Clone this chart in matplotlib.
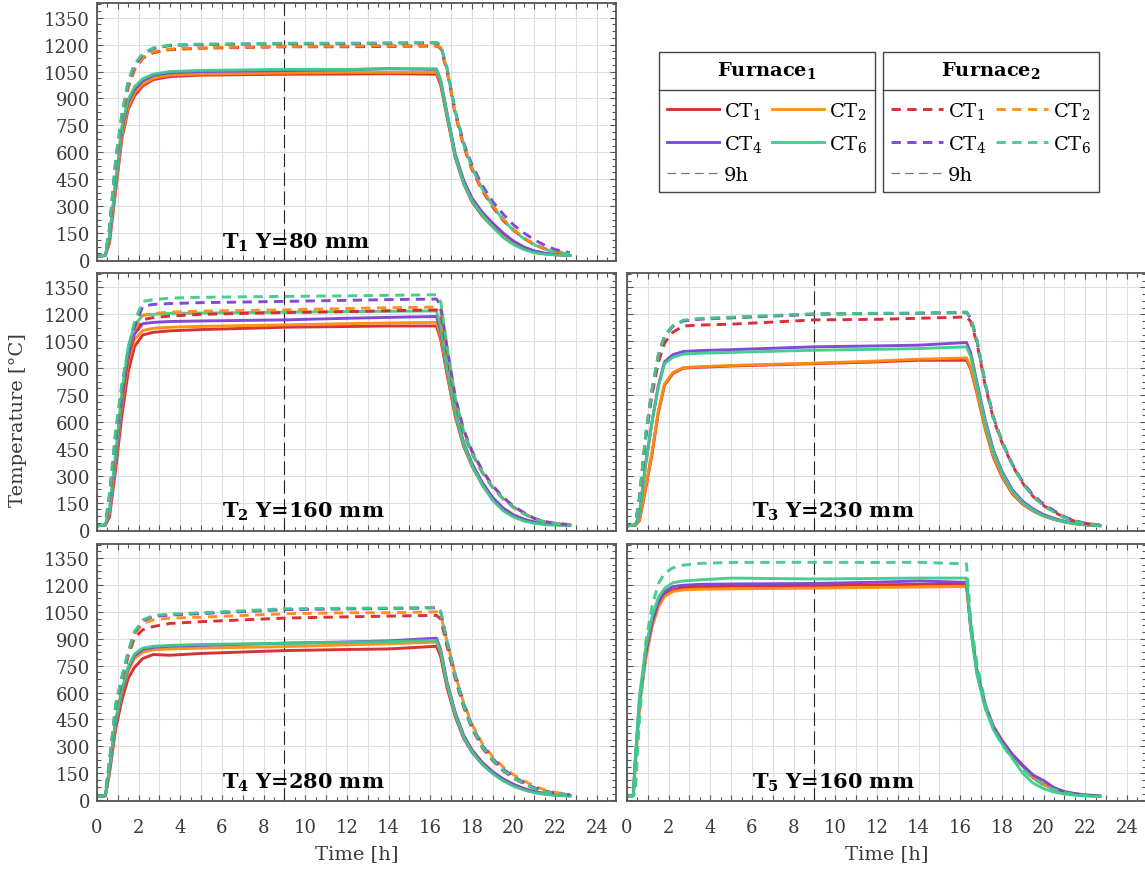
import matplotlib
matplotlib.use("Agg")
import matplotlib.pyplot as plt
from matplotlib.lines import Line2D
from matplotlib.ticker import FuncFormatter, MultipleLocator

plt.rcParams["font.family"] = "DejaVu Serif"
plt.rcParams["mathtext.fontset"] = "dejavuserif"

# shared time grid [h]
TIME = [0, 0.3, 0.4, 0.6, 0.9, 1.2, 1.5, 1.8, 2.2, 2.7, 3.5, 5, 9, 12, 14, 16.3,
        16.5, 16.8, 17.2, 17.6, 18.0, 18.5, 19.0, 19.5, 20.0, 20.5, 21.0, 21.5, 22.0, 22.7]
MARK_9H = 9

# ---- T1, Y = 80 mm
T1_F1_CT1 = [22, 24, 25, 95, 390, 680, 840, 915, 970, 1005, 1022, 1030, 1035, 1036, 1038, 1035,
             975, 800, 570, 425, 325, 245, 185, 135, 95, 65, 45, 35, 29, 25]
T1_F1_CT2 = [22, 24, 25, 105, 405, 700, 855, 930, 980, 1012, 1030, 1036, 1042, 1045, 1045, 1045,
             990, 815, 585, 440, 340, 258, 195, 142, 100, 68, 47, 36, 30, 25]
T1_F1_CT4 = [22, 24, 25, 120, 430, 730, 880, 950, 998, 1028, 1043, 1050, 1055, 1060, 1066, 1062,
             1000, 820, 590, 445, 345, 265, 205, 150, 105, 72, 50, 38, 31, 26]
T1_F1_CT6 = [22, 24, 25, 130, 445, 745, 895, 965, 1010, 1035, 1050, 1056, 1062, 1062, 1065, 1065,
             1000, 815, 580, 430, 330, 250, 185, 125, 85, 58, 40, 32, 28, 24]
T1_F2_CT1 = [22, 24, 28, 160, 530, 780, 960, 1060, 1125, 1155, 1172, 1180, 1188, 1188, 1190, 1192,
             1180, 1055, 810, 635, 505, 385, 295, 220, 165, 120, 85, 62, 46, 36]
T1_F2_CT2 = [22, 24, 28, 165, 540, 790, 970, 1068, 1130, 1160, 1176, 1183, 1190, 1192, 1195, 1195,
             1185, 1065, 820, 645, 515, 395, 305, 228, 170, 124, 88, 64, 48, 37]
T1_F2_CT4 = [22, 24, 28, 175, 555, 810, 990, 1085, 1145, 1178, 1195, 1200, 1205, 1205, 1208, 1210,
             1195, 1070, 830, 655, 530, 415, 325, 255, 195, 150, 112, 82, 58, 40]
T1_F2_CT6 = [22, 24, 28, 180, 565, 820, 1000, 1092, 1150, 1182, 1198, 1203, 1208, 1208, 1210, 1212,
             1198, 1072, 825, 645, 515, 395, 300, 222, 165, 118, 84, 60, 44, 34]

# ---- T2, Y = 160 mm
T2_F1_CT1 = [22, 24, 25, 70, 340, 640, 880, 1020, 1085, 1100, 1108, 1115, 1128, 1132, 1135, 1135,
             1060, 870, 630, 465, 355, 250, 168, 112, 76, 54, 40, 32, 28, 25]
T2_F1_CT2 = [22, 24, 25, 90, 380, 700, 940, 1060, 1110, 1122, 1128, 1133, 1141, 1148, 1152, 1155,
             1080, 885, 645, 478, 365, 258, 175, 118, 80, 57, 42, 33, 28, 25]
T2_F1_CT4 = [22, 24, 25, 100, 400, 730, 966, 1090, 1148, 1155, 1160, 1163, 1169, 1178, 1183, 1188,
             1110, 900, 655, 485, 370, 262, 178, 120, 82, 58, 42, 33, 28, 25]
T2_F1_CT6 = [22, 24, 25, 110, 430, 770, 1020, 1140, 1195, 1200, 1205, 1207, 1212, 1215, 1217, 1219,
             1130, 905, 650, 475, 358, 248, 163, 105, 70, 48, 35, 28, 25, 22]
T2_F2_CT1 = [22, 24, 28, 170, 500, 770, 960, 1090, 1170, 1182, 1190, 1200, 1210, 1215, 1220, 1225,
             1205, 990, 715, 540, 425, 318, 235, 172, 125, 90, 60, 44, 34, 27]
T2_F2_CT2 = [22, 24, 28, 180, 520, 790, 980, 1110, 1195, 1205, 1212, 1218, 1225, 1232, 1237, 1240,
             1220, 1000, 725, 550, 435, 326, 242, 178, 128, 92, 62, 45, 35, 28]
T2_F2_CT4 = [22, 24, 28, 190, 540, 800, 990, 1130, 1245, 1255, 1260, 1265, 1272, 1278, 1282, 1285,
             1250, 1020, 740, 560, 440, 330, 245, 180, 130, 95, 62, 45, 35, 28]
T2_F2_CT6 = [22, 24, 28, 200, 560, 820, 1010, 1160, 1272, 1282, 1290, 1295, 1300, 1303, 1306, 1309,
             1270, 1025, 735, 550, 430, 320, 235, 170, 122, 88, 58, 42, 33, 26]

# ---- T3, Y = 230 mm
T3_F1_CT1 = [22, 24, 25, 50, 230, 420, 650, 805, 870, 900, 905, 912, 925, 935, 944, 944,
             895, 760, 560, 400, 295, 200, 142, 104, 76, 57, 43, 33, 27, 22]
T3_F1_CT2 = [22, 24, 25, 55, 240, 430, 660, 812, 876, 903, 908, 915, 928, 940, 950, 957,
             905, 770, 570, 410, 302, 205, 146, 107, 78, 58, 44, 34, 27, 22]
T3_F1_CT4 = [22, 24, 25, 90, 370, 600, 800, 935, 975, 993, 998, 1003, 1019, 1024, 1028, 1043,
             985, 820, 610, 440, 325, 222, 158, 115, 84, 63, 47, 36, 28, 23]
T3_F1_CT6 = [22, 24, 25, 90, 370, 600, 795, 925, 960, 978, 983, 988, 1000, 1005, 1009, 1019,
             965, 805, 595, 428, 315, 214, 150, 108, 78, 58, 44, 34, 27, 22]
T3_F2_CT1 = [22, 24, 28, 170, 510, 750, 930, 1040, 1100, 1135, 1140, 1145, 1169, 1172, 1178, 1185,
             1160, 1040, 800, 612, 485, 358, 258, 184, 134, 99, 68, 47, 35, 25]
T3_F2_CT2 = [22, 24, 28, 180, 530, 780, 970, 1080, 1135, 1165, 1175, 1182, 1202, 1205, 1205, 1212,
             1180, 1055, 815, 625, 495, 365, 262, 187, 136, 101, 69, 48, 35, 25]
T3_F2_CT4 = [22, 24, 28, 178, 528, 778, 968, 1078, 1133, 1163, 1173, 1180, 1200, 1204, 1206, 1210,
             1178, 1052, 812, 622, 492, 364, 265, 192, 142, 106, 72, 50, 36, 26]
T3_F2_CT6 = [22, 24, 28, 182, 532, 782, 972, 1082, 1137, 1167, 1177, 1184, 1203, 1206, 1207, 1213,
             1182, 1056, 812, 620, 490, 360, 258, 184, 133, 98, 67, 47, 34, 25]

# ---- T4, Y = 280 mm
T4_F1_CT1 = [22, 24, 25, 150, 400, 560, 680, 740, 790, 812, 808, 818, 834, 840, 843, 858,
             800, 630, 465, 345, 268, 200, 150, 112, 82, 60, 45, 35, 29, 25]
T4_F1_CT2 = [22, 24, 25, 165, 430, 600, 720, 790, 825, 838, 843, 848, 856, 866, 872, 881,
             825, 655, 485, 360, 280, 210, 158, 118, 86, 63, 47, 37, 30, 26]
T4_F1_CT4 = [22, 24, 25, 170, 440, 610, 735, 805, 840, 852, 858, 863, 875, 882, 888, 903,
             840, 660, 488, 362, 280, 210, 158, 118, 88, 65, 48, 37, 30, 26]
T4_F1_CT6 = [22, 24, 25, 175, 450, 620, 745, 815, 848, 858, 863, 868, 875, 880, 884, 890,
             830, 650, 478, 352, 270, 200, 148, 108, 78, 57, 42, 33, 27, 23]
T4_F2_CT1 = [22, 24, 28, 205, 510, 670, 805, 905, 950, 968, 985, 995, 1015, 1022, 1026, 1030,
             1010, 860, 675, 520, 400, 292, 220, 164, 123, 92, 66, 49, 38, 30]
T4_F2_CT2 = [22, 24, 28, 210, 520, 680, 820, 925, 985, 1005, 1015, 1020, 1039, 1045, 1045, 1050,
             1035, 885, 700, 545, 425, 315, 242, 185, 142, 108, 78, 58, 44, 32]
T4_F2_CT4 = [22, 24, 28, 215, 530, 685, 825, 935, 1000, 1025, 1032, 1040, 1062, 1066, 1068, 1072,
             1050, 890, 700, 540, 415, 305, 232, 174, 132, 98, 70, 51, 39, 30]
T4_F2_CT6 = [22, 24, 28, 220, 540, 690, 830, 940, 1005, 1030, 1037, 1045, 1067, 1070, 1071, 1075,
             1052, 885, 692, 530, 408, 298, 225, 168, 126, 93, 66, 48, 37, 29]

# ---- T5, Y = 160 mm (furnace 2: CT6 only)
T5_F1_CT1 = [22, 25, 210, 540, 800, 975, 1085, 1145, 1172, 1185, 1190, 1192, 1195, 1200, 1203, 1205,
             960, 715, 525, 405, 330, 250, 190, 125, 88, 65, 45, 35, 28, 22]
T5_F1_CT2 = [22, 25, 200, 530, 790, 965, 1075, 1135, 1163, 1172, 1176, 1178, 1182, 1186, 1188, 1191,
             965, 725, 530, 410, 335, 255, 195, 130, 90, 65, 46, 36, 29, 23]
T5_F1_CT4 = [22, 25, 220, 560, 820, 990, 1100, 1160, 1190, 1198, 1203, 1205, 1208, 1215, 1222, 1214,
             970, 720, 528, 408, 332, 255, 195, 140, 110, 70, 48, 37, 30, 24]
T5_F1_CT6 = [22, 25, 240, 580, 850, 1020, 1130, 1180, 1212, 1222, 1228, 1238, 1233, 1236, 1238, 1238,
             950, 700, 510, 390, 315, 235, 150, 95, 65, 45, 35, 28, 24, 20]
T5_F2_CT6 = [22, 25, 40, 450, 880, 1080, 1205, 1265, 1295, 1310, 1320, 1325, 1326, 1325, 1326, 1317,
             1000, 760, 540, 395, 310, 230, 173, 120, 85, 60, 42, 32, 27, 22]

SENSORS = ["CT1", "CT2", "CT4", "CT6"]
SENSOR_LABELS = [r"CT$_1$", r"CT$_2$", r"CT$_4$", r"CT$_6$"]
PANEL_LABELS = [r"$\mathbf{T_1}$ Y=80 mm", r"$\mathbf{T_2}$ Y=160 mm", r"$\mathbf{T_3}$ Y=230 mm",
                r"$\mathbf{T_4}$ Y=280 mm", r"$\mathbf{T_5}$ Y=160 mm"]
PANEL_F1 = [[T1_F1_CT1, T1_F1_CT2, T1_F1_CT4, T1_F1_CT6],
            [T2_F1_CT1, T2_F1_CT2, T2_F1_CT4, T2_F1_CT6],
            [T3_F1_CT1, T3_F1_CT2, T3_F1_CT4, T3_F1_CT6],
            [T4_F1_CT1, T4_F1_CT2, T4_F1_CT4, T4_F1_CT6],
            [T5_F1_CT1, T5_F1_CT2, T5_F1_CT4, T5_F1_CT6]]
PANEL_F2 = [[T1_F2_CT1, T1_F2_CT2, T1_F2_CT4, T1_F2_CT6],
            [T2_F2_CT1, T2_F2_CT2, T2_F2_CT4, T2_F2_CT6],
            [T3_F2_CT1, T3_F2_CT2, T3_F2_CT4, T3_F2_CT6],
            [T4_F2_CT1, T4_F2_CT2, T4_F2_CT4, T4_F2_CT6],
            [None, None, None, T5_F2_CT6]]

COLORS = {"CT1": "#d7262b", "CT2": "#ff8c10", "CT4": "#7c3fd6", "CT6": "#3fcb8b"}
LW = 2.1
DASH = (3.2, 2.2)

# axes rectangles (left, bottom) in figure fraction
W, H = 0.453, 0.296
XL, XR = 0.0847, 0.5476
POS = [(XL, 0.699), (XL, 0.389), (XR, 0.389), (XL, 0.078), (XR, 0.078)]

fig = plt.figure(figsize=(11.45, 8.7), dpi=100)

legend_handles = {"f1": [], "f2": []}
for i, (x0, y0) in enumerate(POS):
    ax = fig.add_axes([x0, y0, W, H])
    for s, vals in zip(SENSORS, PANEL_F1[i]):
        ln, = ax.plot(TIME, vals, color=COLORS[s], lw=LW, alpha=0.95, solid_joinstyle="round")
        if i == 0:
            legend_handles["f1"].append(ln)
    for s, vals in zip(SENSORS, PANEL_F2[i]):
        if vals is None:
            continue
        ln, = ax.plot(TIME, vals, color=COLORS[s], lw=LW, alpha=0.95, dashes=DASH)
        if i == 0:
            legend_handles["f2"].append(ln)
    ax.axvline(MARK_9H, color="#222222", lw=0.8, dashes=(12, 5), zorder=1.5)
    ax.text(6, 70, PANEL_LABELS[i], fontsize=15, fontweight="bold", ha="left", va="baseline")

    ax.set_xlim(0, 24.9)
    ax.set_ylim(-5, 1430)
    ax.xaxis.set_major_locator(MultipleLocator(1))
    ax.xaxis.set_minor_locator(MultipleLocator(0.5))
    ax.xaxis.set_major_formatter(FuncFormatter(
        lambda v, p: f"{int(round(v))}" if int(round(v)) % 2 == 0 else ""))
    ax.yaxis.set_major_locator(MultipleLocator(150))
    ax.yaxis.set_minor_locator(MultipleLocator(37.5))
    ax.grid(True, which="major", color="#dedede", lw=0.8)
    ax.set_axisbelow(True)
    ax.tick_params(which="both", direction="in", top=True, right=True, color="#555555",
                   labelcolor="#3a3a3a", labelsize=13, pad=5)
    ax.tick_params(axis="x", pad=12)
    ax.tick_params(which="major", length=4.5, width=0.8)
    ax.tick_params(which="minor", length=3, width=0.8)
    ax.tick_params(labelbottom=i >= 3, labelleft=x0 == XL)
    for sp in ax.spines.values():
        sp.set_color("#555555")
        sp.set_linewidth(1.3)
    if i >= 3:
        ax.set_xlabel("Time [h]", fontsize=14, color="#3a3a3a", labelpad=6)

fig.text(0.016, 0.517, "Temperature [°C]", rotation=90, ha="center", va="center",
         fontsize=14, color="#3a3a3a")

nine_h = Line2D([], [], color="#777777", lw=0.9, dashes=(7, 4))
legs = []
for key, title, x_anchor in (("f1", r"$\mathbf{Furnace_1}$", 659 / 1145),
                             ("f2", r"$\mathbf{Furnace_2}$", 883 / 1145)):
    h = legend_handles[key]
    handles = [h[0], h[2], nine_h, h[1], h[3]]
    labels = [SENSOR_LABELS[0], SENSOR_LABELS[2], "9h", SENSOR_LABELS[1], SENSOR_LABELS[3]]
    leg = fig.legend(handles, labels, loc="upper left", bbox_to_anchor=(x_anchor, 1 - 52.7 / 870),
                     bbox_transform=fig.transFigure, ncol=2, fontsize=14, title=title,
                     title_fontsize=14, handlelength=2.7, handletextpad=0.25,
                     columnspacing=0.5, labelspacing=0.62, borderpad=0.4,
                     borderaxespad=0, fancybox=False, framealpha=1, edgecolor="#444444")
    leg.get_frame().set_linewidth(1.0)
    leg._legend_box.sep = 14
    legs.append(leg)

fig.canvas.draw()
r = fig.canvas.get_renderer()
inv = fig.transFigure.inverted()
for leg in legs:
    fb = leg.get_frame().get_window_extent(r)
    tb = leg.get_title().get_window_extent(r)
    top_entry = max(t.get_window_extent(r).y1 for t in leg.get_texts())
    y = 0.5 * (tb.y0 + top_entry)
    (x0, yf), (x1, _) = inv.transform([(fb.x0, y), (fb.x1, y)])
    fig.add_artist(Line2D([x0, x1], [yf, yf], transform=fig.transFigure,
                          color="#444444", lw=1.0, zorder=10))

fig.savefig("out.png", dpi=100)
